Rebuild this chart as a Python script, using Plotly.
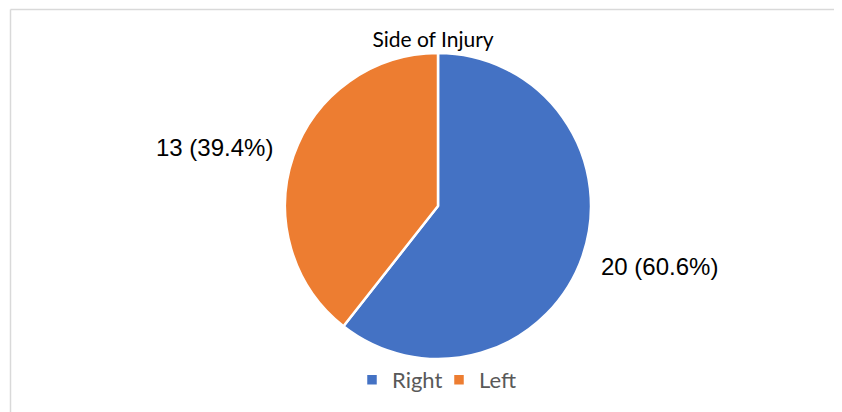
import math
import plotly.graph_objects as go

categories = ["Right", "Left"]
counts = [20, 13]
colors = ["#4472C4", "#ED7D31"]
title_text = "Side of Injury"

total = sum(counts)
labels_text = [f"{c} ({c / total * 100:.1f}%)" for c in counts]

# page has an 8px body margin; lay the figure out in page pixels minus that offset
OFF = 8
W, H = 842 - OFF, 412 - OFF


def px(x):
    return (x - OFF) / W


def py(y):
    return (H - (y - OFF)) / H


# pie geometry (page pixels)
CX, CY, R = 438, 206, 153
LABEL_R = R + 20

fig = go.Figure()
fig.add_trace(go.Pie(
    labels=categories,
    values=counts,
    textinfo="none",
    sort=False,
    direction="clockwise",
    rotation=0,
    marker=dict(colors=colors, line=dict(color="white", width=2.5)),
    domain=dict(x=[px(CX - R), px(CX + R)], y=[py(CY + R), py(CY - R)]),
    showlegend=True,
    automargin=False,
))

# data labels placed outside each slice's mid-angle (Excel "best fit" style)
annotations = []
cum = 0
for val, txt in zip(counts, labels_text):
    mid = (cum + val / 2) / total * 2 * math.pi  # clockwise from 12 o'clock
    cum += val
    right_side = math.sin(mid) > 0
    lx = CX + LABEL_R * math.sin(mid) - (2 if right_side else 0)
    ly = CY - LABEL_R * math.cos(mid)
    annotations.append(dict(
        text=txt, xref="paper", yref="paper", x=px(lx), y=py(ly + (4 if right_side else -2)),
        xanchor="left" if right_side else "right", yanchor="middle", showarrow=False,
        font=dict(family="Liberation Sans, Arial", size=24, color="#000000"),
    ))

fig.update_layout(
    width=W,
    height=H,
    margin=dict(l=0, r=0, t=0, b=0),
    paper_bgcolor="white",
    plot_bgcolor="white",
    title=dict(text=title_text, x=px(433), xanchor="center", y=py(40), yanchor="middle",
               font=dict(family="Lato, Open Sans", size=21, color="#000000")),
    legend=dict(orientation="h", x=px(439), xanchor="center", y=py(380), yanchor="middle",
                font=dict(family="Lato, Open Sans", size=22, color="#595959"),
                itemwidth=30, tracegroupgap=0, entrywidth=42, entrywidthmode="pixels"),
    annotations=annotations,
    shapes=[
        dict(type="line", xref="paper", yref="paper", x0=px(10.5), x1=1.0, y0=py(9.5), y1=py(9.5),
             line=dict(color="#D9D9D9", width=1.5)),
        dict(type="line", xref="paper", yref="paper", x0=px(10.5), x1=px(10.5), y0=0, y1=py(9.5),
             line=dict(color="#D9D9D9", width=1.5)),
    ],
)

fig.write_html("out.html")
